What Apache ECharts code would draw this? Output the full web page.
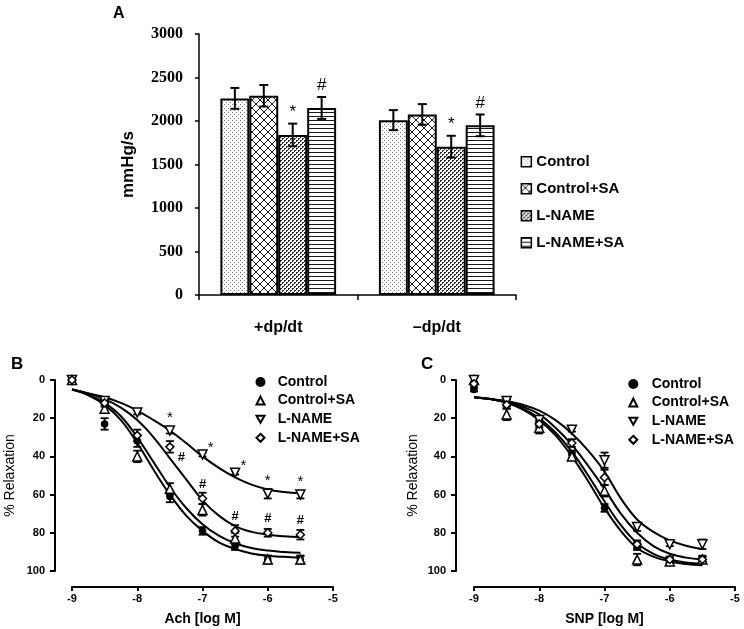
<!DOCTYPE html>
<html><head><meta charset="utf-8">
<script src="https://cdn.jsdelivr.net/npm/echarts@6/dist/echarts.min.js"></script>
<style>html,body{margin:0;padding:0;background:#fff}#c{width:744px;height:629px}</style>
</head><body><div id="c"></div>
<script>
// ---------- shared ----------
const groupNames = ['Control', 'Control+SA', 'L-NAME', 'L-NAME+SA'];

// ---------- Panel A ----------
const aCategories = ['+dp/dt', '–dp/dt'];
const aControl   = [2260, 2010];
const aControlSA = [2290, 2075];
const aLname     = [1840, 1705];
const aLnameSA   = [2150, 1950];
const aControlErr   = [120, 115];
const aControlSAErr = [124, 119];
const aLnameErr     = [130, 125];
const aLnameSAErr   = [126, 125];
const aSig = ['', '', '*', '#'];

// ---------- Panel B (Ach) ----------
const doseX = [-9, -8.5, -8, -7.5, -7, -6.5, -6, -5.5];
const bControl   = [0, 23, 32, 61, 79, 87, 94, 94];
const bControlSA = [0, 15, 40, 57, 68, 83, 94, 94];
const bLname     = [0, 11, 17, 26.5, 39, 48.5, 59.5, 60];
const bLnameSA   = [0, 12, 29, 35, 62, 79, 80, 81];
const bControlErr   = [1, 3, 3, 3, 2, 2, 2, 2];
const bControlSAErr = [1, 2, 3, 3, 3, 3, 2, 2];
const bLnameErr     = [0, 1, 1, 1.5, 1, 1, 2.5, 2];
const bLnameSAErr   = [1, 2, 3, 3, 3, 3, 2, 2.5];
const bLnameSig   = ['', '', '', '*', '*', '*', '*', '*'];
const bLnameSASig = ['', '', '', '#', '#', '#', '#', '#'];

const fitX = [-9, -8.75, -8.5, -8.25, -8, -7.75, -7.5, -7.25, -7, -6.75, -6.5, -6.25, -6, -5.75, -5.5];
const bFitControl   = [5, 8, 13, 21, 33, 47, 60, 71, 79, 85, 88.5, 90.8, 92, 92.6, 93];
const bFitControlSA = [5, 7.5, 12, 19, 30, 43, 56, 67, 75.5, 81.5, 85.5, 88, 89.3, 90, 90.5];
const bFitLname     = [5, 7, 9, 12, 16, 21, 26.5, 33, 40, 46, 51, 54.8, 57.3, 58.6, 59.3];
const bFitLnameSA   = [5, 7, 10, 14.5, 21, 30, 41, 52, 63, 71, 76.5, 79.5, 81, 81.8, 82.2];

// ---------- Panel C (SNP) ----------
const cControl   = [5, 12, 22, 39, 67, 87, 94, 93.5];
const cControlSA = [0, 18, 25, 40, 58, 94, 95, 94];
const cLname     = [0, 11, 21, 26, 42, 77, 86, 86];
const cLnameSA   = [2, 13, 23, 33, 51, 86, 94, 94];
const cControlErr   = [1, 2, 2, 2, 2, 2, 1.5, 1.5];
const cControlSAErr = [1, 3, 3, 2, 3, 3, 1.5, 1.5];
const cLnameErr     = [1, 2, 2, 1, 4, 2, 1, 2.5];
const cLnameSAErr   = [1, 2, 2, 2, 4, 2, 1.5, 1.5];

const cFitControl   = [9, 10, 12, 15.5, 21, 29, 40, 53, 67, 79, 88, 92.5, 95, 96.3, 97];
const cFitControlSA = [9, 10, 11.8, 15, 20, 27.5, 37.5, 50, 63.5, 76, 85.5, 91, 94, 95.5, 96.2];
const cFitLname     = [9, 10, 11, 13, 16, 21, 28, 37, 48, 62, 73, 79.5, 84, 86.8, 88.5];
const cFitLnameSA   = [9, 10, 11.5, 14, 18, 25, 34, 45, 57, 70, 80, 87, 91, 93, 94];

// ---------- styling ----------
const SANS = '"Liberation Sans", Arial, sans-serif';
const SERIF = '"Liberation Serif", "Times New Roman", serif';

function makePattern(w, h, draw) {
  const c = document.createElement('canvas');
  c.width = w; c.height = h;
  const g = c.getContext('2d');
  g.fillStyle = '#fff'; g.fillRect(0, 0, w, h);
  draw(g);
  return { image: c, repeat: 'repeat' };
}
const patterns = [
  makePattern(4, 4, g => { g.fillStyle = '#7a7a7a'; g.fillRect(0, 0, 1, 1); g.fillRect(2, 2, 1, 1); }),
  makePattern(8, 8, g => {
    g.strokeStyle = '#1a1a1a'; g.lineWidth = 1;
    g.beginPath();
    g.moveTo(-1, -1); g.lineTo(9, 9);
    g.moveTo(9, -1); g.lineTo(-1, 9);
    g.stroke();
  }),
  makePattern(4, 4, g => {
    g.fillStyle = '#2a2a2a';
    g.fillRect(0, 0, 2, 1); g.fillRect(0, 1, 1, 1);
    g.fillRect(2, 2, 2, 1); g.fillRect(2, 3, 1, 1);
  }),
  makePattern(4, 4, g => { g.fillStyle = '#1a1a1a'; g.fillRect(0, 0, 4, 1); })
];

const aVals = [aControl, aControlSA, aLname, aLnameSA];
const aErrs = [aControlErr, aControlSAErr, aLnameErr, aLnameSAErr];
const BAR_GAP = 0.27;

const series = [];

// Panel A bars
aVals.forEach((vals, i) => {
  series.push({
    type: 'bar', name: 'A:' + groupNames[i], xAxisIndex: 0, yAxisIndex: 0,
    data: vals, barGap: '0%', barCategoryGap: (BAR_GAP * 100) + '%',
    itemStyle: { color: patterns[i], borderColor: '#000', borderWidth: 2 },
    z: 2, silent: true
  });
});
// Panel A error bars + significance
const aErrData = [];
aVals.forEach((vals, i) => vals.forEach((v, c) => aErrData.push([c, v, aErrs[i][c], i])));
series.push({
  type: 'custom', xAxisIndex: 0, yAxisIndex: 0, data: aErrData, z: 5, silent: true,
  encode: { x: 0, y: 1 },
  renderItem: (params, api) => {
    const cat = api.value(0), v = api.value(1), e = api.value(2), bi = api.value(3);
    const band = api.size([1, 0])[0];
    const bw = band * (1 - BAR_GAP) / 4;
    const x = api.coord([cat, v])[0] + (bi - 1.5) * bw;
    const yT = api.coord([cat, v + e])[1], yB = api.coord([cat, v - e])[1];
    const cap = 4.5, st = { stroke: '#000', lineWidth: 2 };
    const ch = [
      { type: 'line', shape: { x1: x, y1: yT, x2: x, y2: yB }, style: st },
      { type: 'line', shape: { x1: x - cap, y1: yT, x2: x + cap, y2: yT }, style: st },
      { type: 'line', shape: { x1: x - cap, y1: yB, x2: x + cap, y2: yB }, style: st }
    ];
    const s = aSig[bi];
    if (s) ch.push({ type: 'text', x: x, y: yT - 3,
      style: { text: s, fill: '#000', font: 'normal 17px ' + SANS, align: 'center', verticalAlign: 'bottom' } });
    return { type: 'group', children: ch };
  }
});

// Panels B & C
const SYMBOLS = [
  { symbol: 'circle', size: 6, rot: 0, fill: '#000' },
  { symbol: 'triangle', size: 9, rot: 0, fill: '#fff' },
  { symbol: 'triangle', size: 9, rot: 180, fill: '#fff' },
  { symbol: 'diamond', size: 8, rot: 0, fill: '#fff' }
];
function addDoseSeries(prefix, axisIdx, vals, errs, fits, sigs) {
  fits.forEach((f, i) => {
    series.push({
      type: 'line', name: prefix + 'fit' + i, xAxisIndex: axisIdx, yAxisIndex: axisIdx,
      data: fitX.map((x, k) => [x, f[k]]), smooth: 0.4, showSymbol: false, symbol: 'none',
      lineStyle: { color: '#000', width: 2 }, z: 2, silent: true
    });
  });
  vals.forEach((v, i) => {
    series.push({
      type: 'custom', xAxisIndex: axisIdx, yAxisIndex: axisIdx, z: 3, silent: true,
      data: doseX.map((x, k) => [x, v[k], errs[i][k]]),
      encode: { x: 0, y: 1 },
      renderItem: (params, api) => {
        const x = api.value(0), y = api.value(1), e = api.value(2);
        if (!e) return null;
        const p1 = api.coord([x, y - e]), p2 = api.coord([x, y + e]);
        const cap = 4, st = { stroke: '#000', lineWidth: 1.8 };
        return { type: 'group', children: [
          { type: 'line', shape: { x1: p1[0], y1: p1[1], x2: p2[0], y2: p2[1] }, style: st },
          { type: 'line', shape: { x1: p1[0] - cap, y1: p1[1], x2: p1[0] + cap, y2: p1[1] }, style: st },
          { type: 'line', shape: { x1: p2[0] - cap, y1: p2[1], x2: p2[0] + cap, y2: p2[1] }, style: st }
        ]};
      }
    });
  });
  vals.forEach((v, i) => {
    const sy = SYMBOLS[i];
    const sig = sigs ? sigs[i] : null;
    series.push({
      type: 'scatter', name: prefix + groupNames[i], xAxisIndex: axisIdx, yAxisIndex: axisIdx,
      symbol: sy.symbol, symbolSize: sy.size, symbolRotate: sy.rot,
      itemStyle: { color: sy.fill, borderColor: '#000', borderWidth: 1.5, opacity: 1 },
      z: 4, silent: true,
      data: doseX.map((x, k) => {
        const item = { value: [x, v[k]] };
        if (sig && sig[k]) {
          const isStar = sig[k] === '*';
          let lab = { show: true, formatter: sig[k], position: 'top', distance: isStar ? 0 : 3, color: '#000',
            fontFamily: SANS, fontSize: isStar ? 15 : 13, fontWeight: isStar ? 'normal' : 'bold' };
          if (isStar && (x === -7 || x === -6.5)) lab = Object.assign(lab, { position: 'right', distance: 2, offset: [-2, -7] });
          if (!isStar && x === -7.5) lab = Object.assign(lab, { position: 'right', distance: 3, offset: [0, 11] });
          item.label = lab;
        }
        return item;
      })
    });
  });
}
addDoseSeries('B:', 1, [bControl, bControlSA, bLname, bLnameSA],
  [bControlErr, bControlSAErr, bLnameErr, bLnameSAErr],
  [bFitControl, bFitControlSA, bFitLname, bFitLnameSA],
  [null, null, bLnameSig, bLnameSASig]);
addDoseSeries('C:', 2, [cControl, cControlSA, cLname, cLnameSA],
  [cControlErr, cControlSAErr, cLnameErr, cLnameSAErr],
  [cFitControl, cFitControlSA, cFitLname, cFitLnameSA], null);

const doseXAxis = (gridIndex, name) => ({
  type: 'value', gridIndex, min: -9, max: -5, interval: 1, offset: 16,
  name, nameLocation: 'middle', nameGap: 25,
  nameTextStyle: { fontFamily: SANS, fontWeight: 'bold', fontSize: 14, color: '#000' },
  axisLine: { show: true, onZero: false, lineStyle: { color: '#000', width: 2 } },
  axisTick: { show: true, length: 4, lineStyle: { color: '#000', width: 2 } },
  axisLabel: { fontFamily: SANS, fontWeight: 'bold', fontSize: 11, color: '#000', margin: 6 },
  splitLine: { show: false }
});
const relYAxis = (gridIndex, offset, gap) => ({
  type: 'value', gridIndex, min: 0, max: 100, interval: 20, inverse: true, offset,
  name: '% Relaxation', nameLocation: 'middle', nameGap: gap, nameRotate: 90,
  nameTextStyle: { fontFamily: SANS, fontSize: 14, color: '#000' },
  axisLine: { show: true, onZero: false, lineStyle: { color: '#000', width: 2 } },
  axisTick: { show: true, length: 5, lineStyle: { color: '#000', width: 2 } },
  axisLabel: { fontFamily: SANS, fontWeight: 'bold', fontSize: 11, color: '#000', margin: 10 },
  splitLine: { show: false }
});

const legendBase = (prefix, left, top, fontSize, lineH, gap, pad, iw, icons) => ({
  data: groupNames.map((n, i) => icons ? { name: prefix + n, icon: icons[i] } : prefix + n),
  formatter: n => n.slice(prefix.length),
  orient: 'vertical', left, top, itemWidth: iw, itemHeight: iw, itemGap: gap,
  selectedMode: false,
  textStyle: { fontFamily: SANS, fontWeight: 'bold', fontSize, lineHeight: lineH, color: '#000', padding: [0, 0, 0, pad] }
});
const doseIcons = ['circle', 'triangle', 'path://M0,0L20,0L10,17.3Z', 'diamond'];

const option = {
  animation: false,
  backgroundColor: '#fff',
  title: [
    { text: 'A', left: 108, top: 1, textStyle: { fontFamily: SANS, fontWeight: 'bold', fontSize: 16, color: '#000' } },
    { text: 'B', left: 6, top: 351, textStyle: { fontFamily: SANS, fontWeight: 'bold', fontSize: 17, color: '#000' } },
    { text: 'C', left: 416, top: 351, textStyle: { fontFamily: SANS, fontWeight: 'bold', fontSize: 17, color: '#000' } }
  ],
  legend: [
    Object.assign(legendBase('A:', 515.6, 149.2, 15, 15, 12, 0, 10), { icon: 'rect', itemStyle: { borderWidth: 1.5, borderColor: '#000' } }),
    legendBase('B:', 250.5, 370, 14, 14, 4.6, 8.2, 8, doseIcons),
    legendBase('C:', 623.3, 372, 14, 14, 4.6, 9.4, 8, doseIcons)
  ],
  grid: [
    { left: 199, top: 34, width: 317, height: 261, outerBoundsMode: 'none', containLabel: false },
    { left: 72, top: 380, width: 261, height: 191, outerBoundsMode: 'none', containLabel: false },
    { left: 474, top: 380, width: 261, height: 191, outerBoundsMode: 'none', containLabel: false }
  ],
  xAxis: [
    { type: 'category', gridIndex: 0, data: aCategories,
      axisLine: { show: true, lineStyle: { color: '#000', width: 1.5 } },
      axisTick: { show: true, length: 5, alignWithLabel: false, lineStyle: { color: '#000', width: 1.5 } },
      axisLabel: { fontFamily: SANS, fontWeight: 'bold', fontSize: 16, color: '#000', margin: 25 },
      splitLine: { show: false } },
    doseXAxis(1, 'Ach [log M]'),
    doseXAxis(2, 'SNP [log M]')
  ],
  yAxis: [
    { type: 'value', gridIndex: 0, min: 0, max: 3000, interval: 500,
      name: 'mmHg/s', nameLocation: 'middle', nameGap: 62, nameRotate: 90,
      nameTextStyle: { fontFamily: SANS, fontWeight: 'bold', fontSize: 17, color: '#000' },
      axisLine: { show: true, lineStyle: { color: '#000', width: 1.5 } },
      axisTick: { show: true, length: 4, lineStyle: { color: '#000', width: 1.5 } },
      axisLabel: { fontFamily: SERIF, fontWeight: 'bold', fontSize: 16, color: '#000', margin: 16, formatter: v => String(v) },
      splitLine: { show: false } },
    relYAxis(1, 17, 38),
    relYAxis(2, 18, 36)
  ],
  series
};
const chart = echarts.init(document.getElementById('c'), null, { renderer: 'canvas' });
chart.setOption(option);
</script>
</body></html>
